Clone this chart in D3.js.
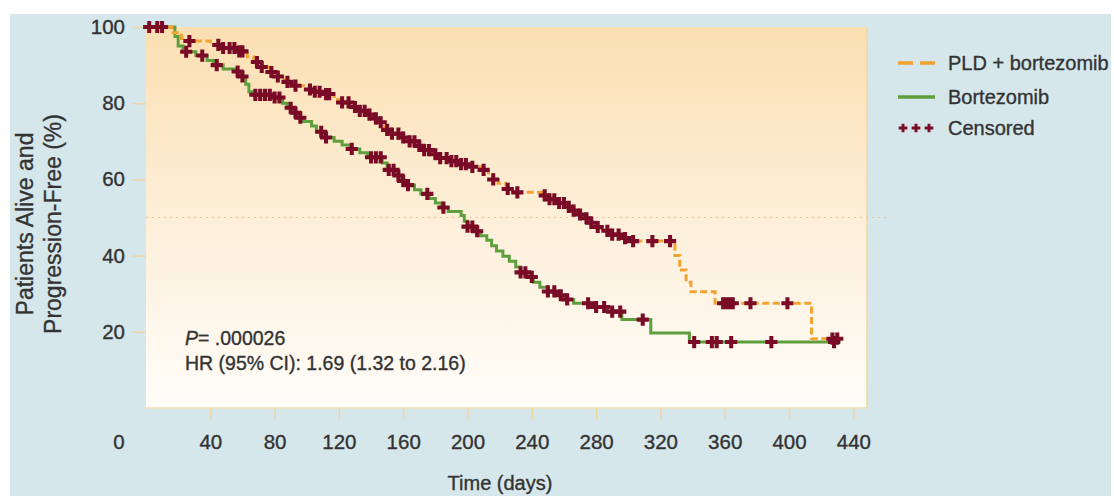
<!DOCTYPE html>
<html>
<head>
<meta charset="utf-8">
<script src="https://cdn.jsdelivr.net/npm/d3@7"></script>
<style>
  html, body { margin: 0; padding: 0; background: #fff; }
  svg { display: block; font-family: "Liberation Sans", Arial, Helvetica, sans-serif; }
</style>
</head>
<body>
<svg id="chart" width="1114" height="496"></svg>
<script>
// ---------------- data ----------------
const seriesNames = ["PLD + bortezomib", "Bortezomib"];
const xTickValues = [40, 80, 120, 160, 200, 240, 280, 320, 360, 400, 440];
const yTickValues = [20, 40, 60, 80, 100];
const endDay = 432;

// Kaplan–Meier steps: [day, % alive and progression-free after the step]
const pldSteps = [[0,100],[16,98.5],[22,97],[27,96.3],[40,95.3],[48,94.5],[56,93.6],[63,92.2],[67,90.8],[72,89.5],[76,88.2],[81,87],[86,85.6],[92,84.6],[98,83.6],[103,83],[111,82.4],[117,81],[121,80.2],[127,79],[132,78],[137,77],[141,76],[145,75],[148,73],[153,72],[158,71],[163,70],[168,68.8],[172,67.7],[177,66.6],[182,65.6],[188,64.8],[195,64],[202,63.3],[208,62.5],[213,61.2],[216,60],[219,59],[224,57.5],[228,56.6],[246,55.8],[251,54.8],[256,53.8],[261,52.8],[266,51.8],[270,50.8],[274,49.8],[277,48.6],[280,47.5],[283,46.5],[290,45.5],[296,44.6],[301,43.8],[329,40],[332,36.2],[336,33],[339,30.5],[354,27.5],[414,18.2]];
const bortSteps = [[0,100],[18,97.5],[20,95],[23,93.5],[31,92.5],[38,91.2],[42,90],[48,89],[55,88.3],[59,87],[62,85],[64,83],[66,82.2],[80,81.5],[85,80],[88,78.8],[91,77.5],[94,76.2],[98,75.2],[103,74],[106,72.5],[111,71],[117,70],[122,69],[127,68],[133,67],[138,65.8],[147,64.3],[150,62.5],[155,61],[159,59.6],[163,58.5],[167,57.3],[171,56.2],[176,55],[180,53.8],[184,52.6],[188,51.6],[196,50.5],[198,49],[200,47.6],[204,46.4],[208,45.2],[212,44],[215,42.6],[218,41.2],[222,39.8],[226,38.5],[230,37],[233,35.6],[237,34.4],[241,33],[245,31.7],[250,30.6],[255,29.6],[260,28.5],[266,27.5],[280,26.5],[287,25.3],[296,23.2],[314,19.7],[338,17.3]];

// censored observations (days)
const pldCensored = [2,7,10,27,45,48,52,55,58,60,69,72,78,82,88,93,102,105,108,112,114,122,126,130,133,136,139,143,146,150,153,157,160,164,167,170,173,176,180,183,187,190,193,196,199,203,210,216,225,231,248,251,254,257,260,263,266,270,274,277,281,287,290,294,298,303,315,326,359,361,363,365,376,399,427,430];
const bortCensored = [25,35,44,57,60,68,71,74,77,80,83,90,93,96,109,112,128,140,143,146,151,154,157,160,163,175,185,200,203,206,233,236,240,250,254,258,262,275,280,285,290,295,309,341,352,355,364,389,428];

const annotationP = "= .000026";
const annotationHR = "HR (95% CI): 1.69 (1.32 to 2.16)";

// ---------------- drawing ----------------
const svg = d3.select("#chart");
const W = 1114, H = 496;
const plot = { left: 146, right: 867, top: 27, bottom: 408 };

const x = d3.scaleLinear().domain([0, 448.5]).range([plot.left, plot.right]);
const y = d3.scaleLinear().domain([0, 100]).range([plot.bottom, plot.top]);

const textColor = "#333333";
const orange = "#f2a331";
const green = "#5f9e3d";
const maroon = "#7a0b26";

// text weight helper (reference type is slightly heavier)
const heavy = sel => sel.attr("stroke", textColor).attr("stroke-width", 0.35);

// backgrounds
svg.append("rect").attr("width", W).attr("height", H).attr("fill", "#ffffff");
svg.append("rect").attr("x", 10).attr("y", 14).attr("width", 1101).attr("height", H - 14).attr("fill", "#d6e7ec");

const defs = svg.append("defs");
const grad = defs.append("linearGradient").attr("id", "plotGrad").attr("x1", 0).attr("y1", 0).attr("x2", 0).attr("y2", 1);
grad.append("stop").attr("offset", "0%").attr("stop-color", "#fbdfb2");
grad.append("stop").attr("offset", "50%").attr("stop-color", "#fdefd9");
grad.append("stop").attr("offset", "100%").attr("stop-color", "#fffdf9");

svg.append("rect")
  .attr("x", plot.left).attr("y", plot.top)
  .attr("width", plot.right - plot.left).attr("height", plot.bottom - plot.top)
  .attr("fill", "url(#plotGrad)");
svg.append("line").attr("x1", plot.right).attr("x2", plot.right).attr("y1", plot.top).attr("y2", plot.bottom)
  .attr("stroke", "#f3d6a6").attr("stroke-width", 1.5);
svg.append("line").attr("x1", plot.left).attr("x2", plot.right).attr("y1", plot.bottom).attr("y2", plot.bottom)
  .attr("stroke", "#f6dcae").attr("stroke-width", 1.5);

// median reference line (dotted)
svg.append("line")
  .attr("x1", plot.left).attr("x2", plot.right + 20)
  .attr("y1", y(50)).attr("y2", y(50))
  .attr("stroke", "#efc48e").attr("stroke-width", 1.2).attr("stroke-dasharray", "2,4");

// axes
const xAxis = svg.append("g").attr("transform", `translate(0,${plot.bottom})`)
  .call(d3.axisBottom(x).tickValues(xTickValues).tickSize(11).tickPadding(15));
const yAxis = svg.append("g").attr("transform", `translate(${plot.left},0)`)
  .call(d3.axisLeft(y).tickValues(yTickValues).tickSize(13).tickPadding(8));
[xAxis, yAxis].forEach(g => {
  g.select(".domain").remove();
  g.selectAll(".tick line").attr("stroke", "#f3d3a0").attr("stroke-width", 1.5);
  g.selectAll(".tick text").attr("fill", textColor).attr("font-size", 20.5)
    .attr("font-family", "'Liberation Sans', Arial, sans-serif").call(heavy);
});
// origin label
svg.append("text").attr("x", 119).attr("y", plot.bottom + 26).attr("dy", "0.71em")
  .attr("text-anchor", "middle").attr("fill", textColor).attr("font-size", 20.5).text("0").call(heavy);

// axis titles
svg.append("text").attr("x", 500).attr("y", 490)
  .attr("text-anchor", "middle").attr("fill", textColor).attr("font-size", 20).text("Time (days)").call(heavy);
const yTitle = svg.append("g").attr("transform", "translate(0,224)");
yTitle.append("text").attr("transform", "translate(25,0) rotate(-90)")
  .attr("text-anchor", "middle").attr("dominant-baseline", "central")
  .attr("fill", textColor).attr("font-size", 23).text("Patients Alive and").call(heavy);
yTitle.append("text").attr("transform", "translate(53,0) rotate(-90)")
  .attr("text-anchor", "middle").attr("dominant-baseline", "central")
  .attr("fill", textColor).attr("font-size", 23).text("Progression-Free (%)").call(heavy);

// step function helper
function valueAt(steps, day) {
  const i = d3.bisector(d => d[0]).right(steps, day) - 1;
  return steps[Math.max(0, i)][1];
}
const line = d3.line().x(d => x(d[0])).y(d => y(d[1])).curve(d3.curveStepAfter);
const withEnd = s => s.concat([[endDay, s[s.length - 1][1]]]);

svg.append("path").datum(withEnd(bortSteps)).attr("d", line)
  .attr("fill", "none").attr("stroke", green).attr("stroke-width", 3);
svg.append("path").datum(withEnd(pldSteps)).attr("d", line)
  .attr("fill", "none").attr("stroke", orange).attr("stroke-width", 3)
  .attr("stroke-dasharray", "7,3.5");

// censor marks
const cross = d3.symbol().type(d3.symbolCross).size(82);
const censorData = pldCensored.map(d => [d, valueAt(pldSteps, d)])
  .concat(bortCensored.map(d => [d, valueAt(bortSteps, d)]));
svg.append("g").selectAll("path").data(censorData).join("path")
  .attr("transform", d => `translate(${x(d[0])},${y(d[1])})`)
  .attr("d", cross).attr("fill", maroon);

// annotations
const ann = svg.append("g").attr("fill", textColor).attr("font-size", 19.5);
const pText = ann.append("text").attr("x", 185).attr("y", 338).attr("dominant-baseline", "central").call(heavy);
pText.append("tspan").attr("font-style", "italic").text("P");
pText.append("tspan").text(annotationP);
ann.append("text").attr("x", 185).attr("y", 363).attr("dominant-baseline", "central").text(annotationHR).call(heavy);

// legend
const legend = svg.append("g");
const rows = [63, 97, 128];
legend.append("line").attr("x1", 898).attr("x2", 935).attr("y1", rows[0]).attr("y2", rows[0])
  .attr("stroke", orange).attr("stroke-width", 3.5).attr("stroke-dasharray", "15,7");
legend.append("line").attr("x1", 898).attr("x2", 935).attr("y1", rows[1]).attr("y2", rows[1])
  .attr("stroke", green).attr("stroke-width", 3.5);
const smallCross = d3.symbol().type(d3.symbolCross).size(42);
legend.selectAll("path.lc").data([903, 916, 929]).join("path").attr("class", "lc")
  .attr("transform", d => `translate(${d},${rows[2]})`).attr("d", smallCross).attr("fill", maroon);
legend.selectAll("text").data([seriesNames[0], seriesNames[1], "Censored"]).join("text")
  .attr("x", 948).attr("y", (d, i) => rows[i]).attr("dominant-baseline", "central")
  .attr("fill", textColor).attr("font-size", 20).text(d => d).call(heavy);
</script>
</body>
</html>
